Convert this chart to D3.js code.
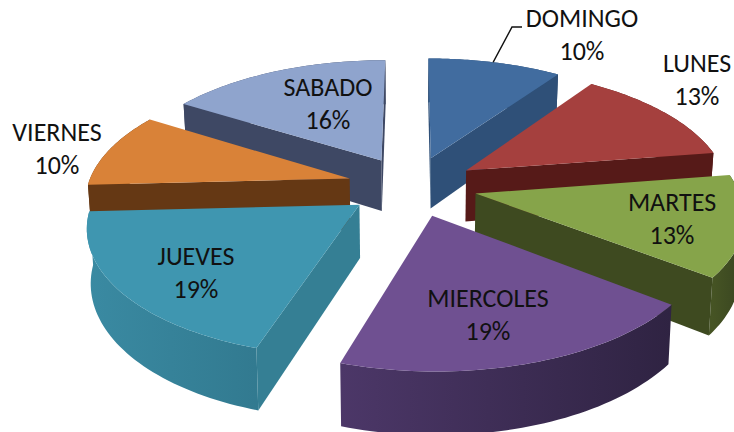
<!DOCTYPE html>
<html><head><meta charset="utf-8">
<script src="https://cdn.jsdelivr.net/npm/d3@7"></script>
<style>html,body{margin:0;padding:0;background:#fff;overflow:hidden}</style>
</head><body><svg id="c" width="734" height="432"></svg>
<script>
const categories = ["DOMINGO","LUNES","MARTES","MIERCOLES","JUEVES","VIERNES","SABADO"];
const counts = [3,4,4,6,6,3,5];
const topColors = ["#416c9f","#a5403e","#86a44a","#6f5091","#3f96b0","#d98238","#8fa4cd"];
const edgeColors = ["#2f5078","#561a18","#3e4a20","#3a2a50","#357f94","#653814","#3e4864"];
const rimLight = ["#34587f","#5e1e1b","#465424","#4c3768","#3a8aa2","#6d3d17","#46516f"];
const rimDark = ["#2c4a70","#4e1714","#384420","#2f2342","#327a90","#5b3211","#384159"];
const labelCentres = [[582,19],[697,64],[672,203],[488,299],[196,257],[57,133],[328,88]];

const W = 734, H = 432, cx = 412, cy = 186, A = 262, B = 122.5;
const persp = 0.15, explodeX = 0.248, explodeY = 0.245, depth = 52, shrink = 0.988, lineGap = 33;

const svg = d3.select("#c");
const defs = svg.append("defs");
const sxScale = d3.scaleLinear().domain([-1,1]).range([cx-A,cx+A]);
const syScale = d3.scaleLinear().domain([-1,1]).range([cy+B,cy-B]);
const total = d3.sum(counts);
const pct = d3.format(".0%");

function project(wx, wy, lower){
  const s = 1/(1+persp*wy);
  let x = sxScale(wx*s), y = syScale(wy*s);
  if(lower){ x = cx+(x-cx)*shrink; y += depth*s; }
  return [x,y];
}
const pie = d3.pie().sort(null).value(d=>d);
const arcs = pie(counts).map((a,i)=>{
  const mid=(a.startAngle+a.endAngle)/2;
  return {i,a0:a.startAngle,a1:a.endAngle,mid,ox:explodeX*Math.sin(mid),oy:explodeY*Math.cos(mid)};
});
const line = d3.line();
function rim(d,lower){
  const n=48;
  return d3.range(n+1).map(k=>{
    const t=d.a0+(d.a1-d.a0)*k/n;
    return project(d.ox+Math.sin(t),d.oy+Math.cos(t),lower);
  });
}
// a straight wall shows only when the slice's top lies above its edge
function wallFaces(apex,end,inner){
  const c=(end[0]-apex[0])*(inner[1]-apex[1])-(end[1]-apex[1])*(inner[0]-apex[0]);
  const dir=end[0]>=apex[0]?1:-1;
  return c*dir<0;
}
const order = arcs.slice().sort((a,b)=>b.oy-a.oy);
order.forEach(d=>{
  const g=svg.append("g");
  const up=rim(d,false), dn=rim(d,true);
  const apexT=project(d.ox,d.oy,false), apexB=project(d.ox,d.oy,true);
  const inner=project(d.ox+0.5*Math.sin(d.mid),d.oy+0.5*Math.cos(d.mid),false);
  const gid="rim"+d.i;
  const xs=up.map(p=>p[0]);
  const grad=defs.append("linearGradient").attr("id",gid).attr("gradientUnits","userSpaceOnUse")
    .attr("x1",d3.min(xs)).attr("x2",d3.max(xs)).attr("y1",0).attr("y2",0);
  grad.append("stop").attr("offset",0).attr("stop-color",rimLight[d.i]);
  grad.append("stop").attr("offset",1).attr("stop-color",rimDark[d.i]);
  g.append("path").attr("d",line(up.concat(dn.slice().reverse()))+"Z").attr("fill",`url(#${gid})`);
  [[up[0],dn[0]],[up[up.length-1],dn[dn.length-1]]].forEach(e=>{
    if(wallFaces(apexT,e[0],inner))
      g.append("path").attr("d",line([apexT,e[0],e[1],apexB])+"Z").attr("fill",edgeColors[d.i]);
  });
  g.append("path").attr("d",line([apexT].concat(up))+"Z").attr("fill",topColors[d.i]);
});
svg.append("path").attr("d",line(
  [project(arcs[0].ox+Math.sin(0.295),arcs[0].oy+Math.cos(0.295),false),[512,27],[522,27]]))
  .attr("fill","none").attr("stroke","#111").attr("stroke-width",1.5);
categories.forEach((c,i)=>{
  const t=svg.append("text").attr("text-anchor","middle")
    .attr("font-family","Carlito, Calibri, Lato, sans-serif").attr("font-size",26).attr("font-weight",400).attr("fill","#111");
  t.append("tspan").attr("x",labelCentres[i][0]).attr("y",labelCentres[i][1]+8).text(c);
  t.append("tspan").attr("x",labelCentres[i][0]).attr("y",labelCentres[i][1]+8+lineGap).text(pct(counts[i]/total));
});
</script></body></html>
